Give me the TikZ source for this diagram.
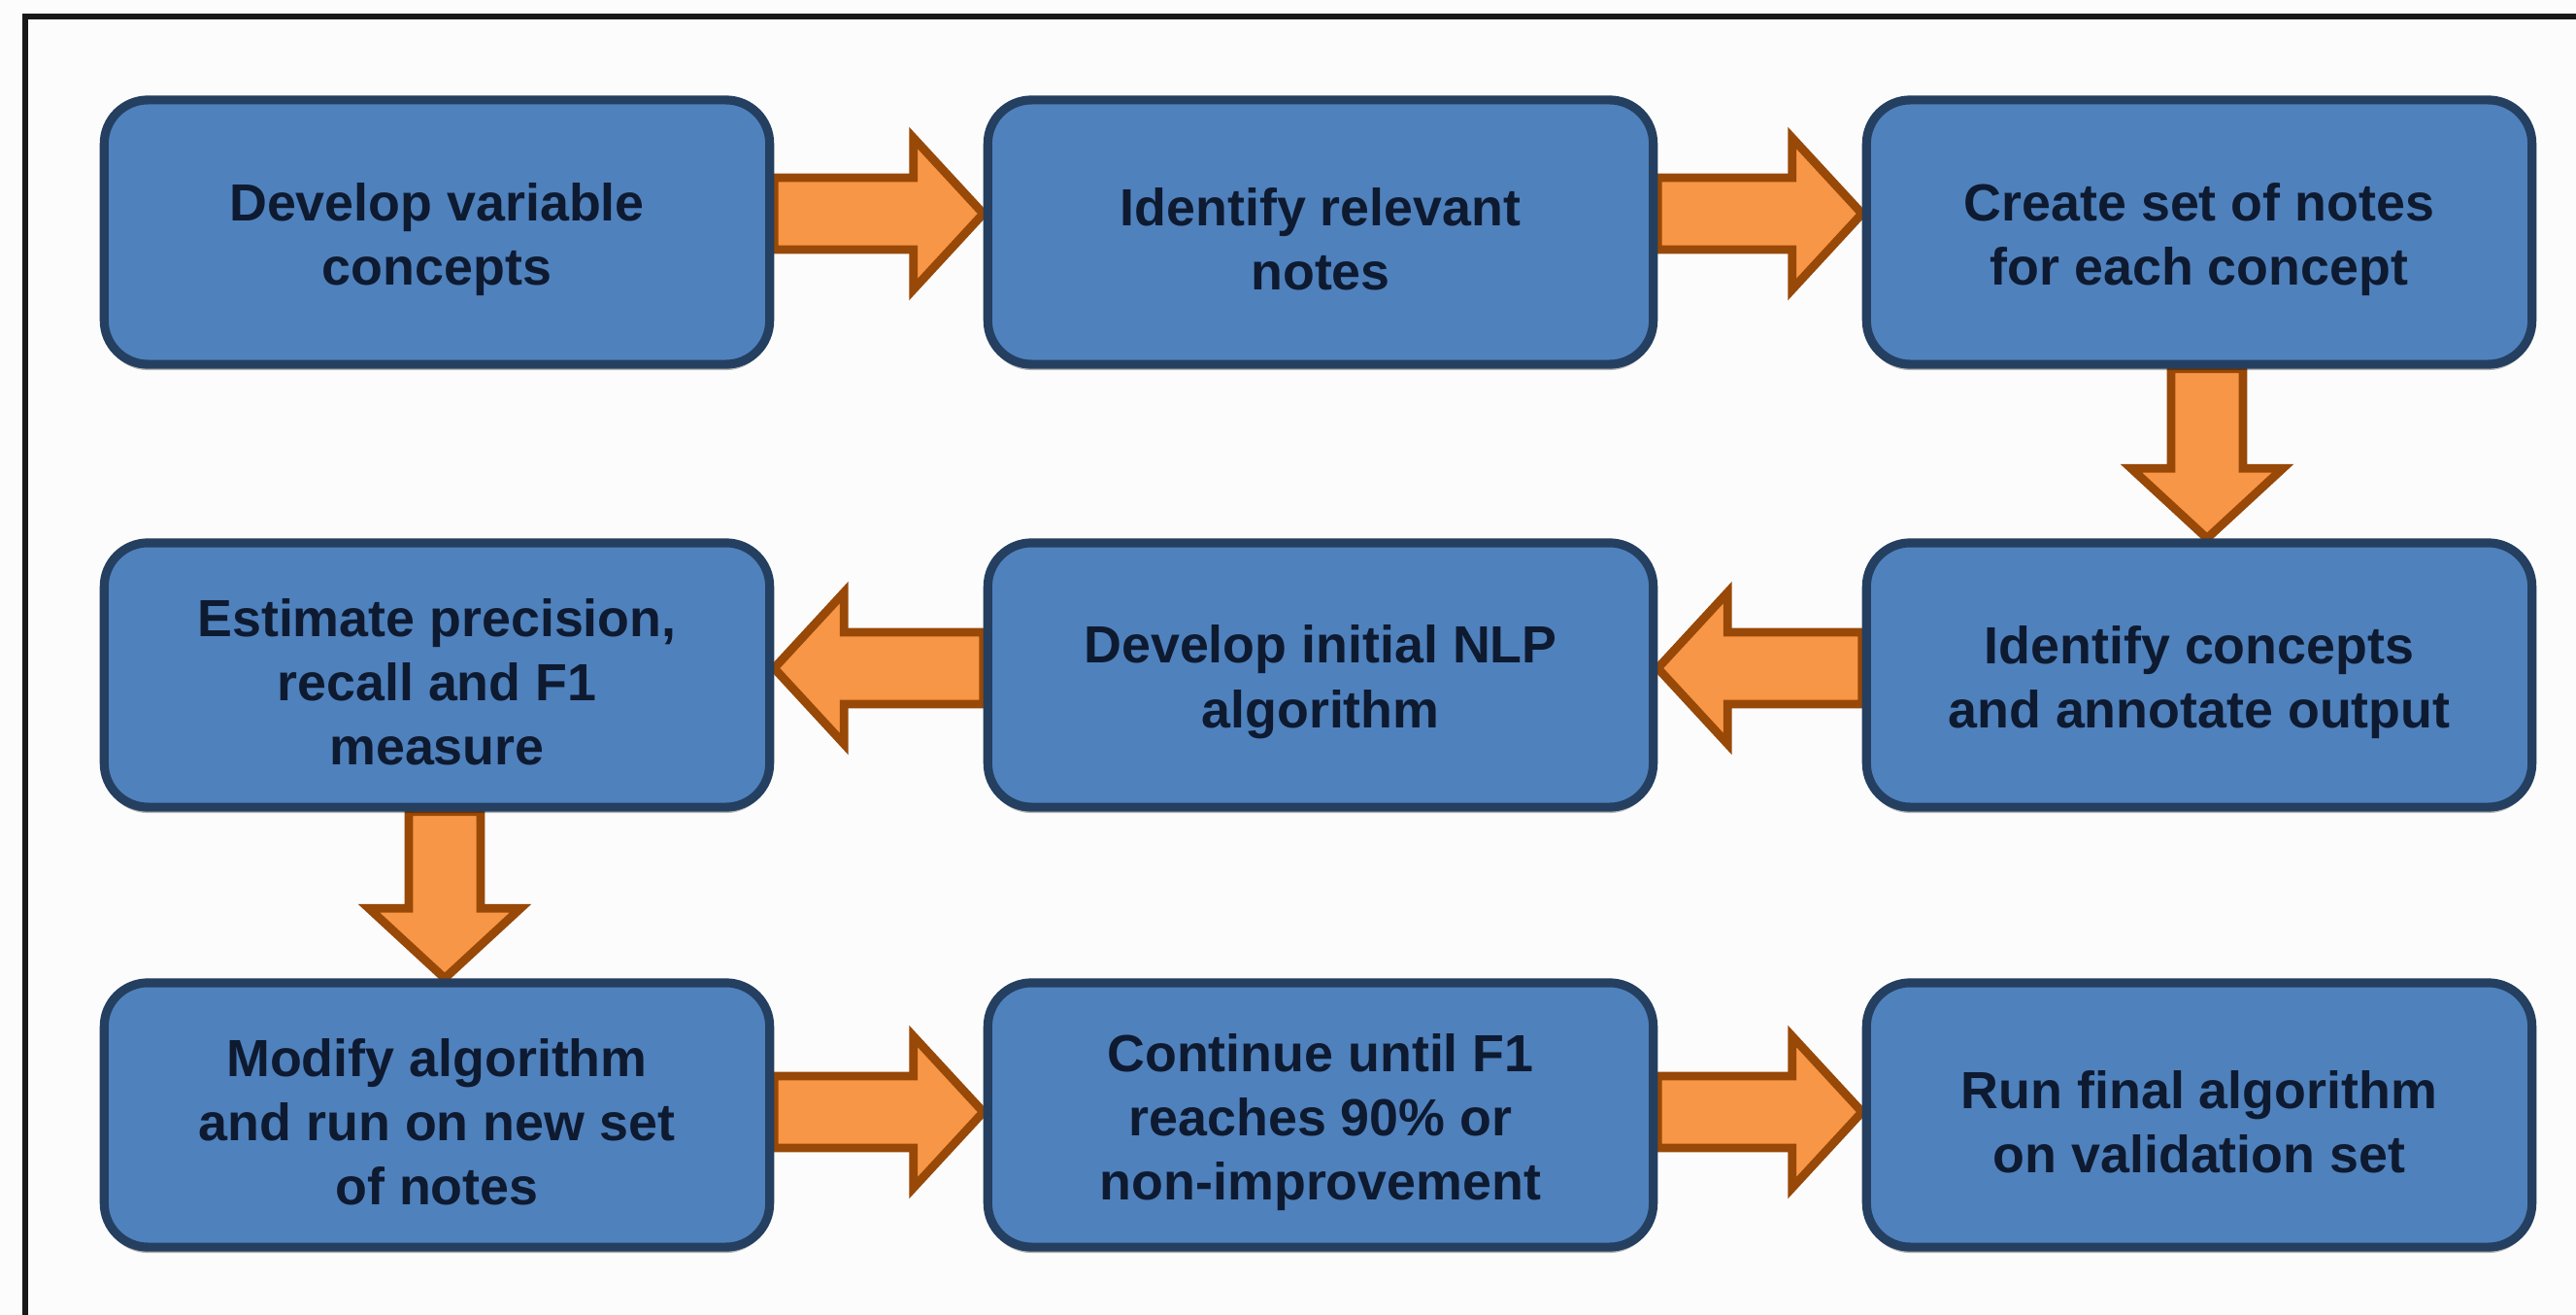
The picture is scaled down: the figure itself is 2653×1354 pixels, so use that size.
\documentclass[tikz,border=0pt]{standalone}
\usepackage{fontspec}
\setmainfont{Liberation Sans}
\usetikzlibrary{calc,backgrounds,shadows}
\definecolor{boxfill}{HTML}{4F81BD}
\definecolor{boxline}{HTML}{243F60}
\definecolor{txtcol}{HTML}{0E1A30}
\definecolor{arrfill}{HTML}{F79646}
\definecolor{arrline}{HTML}{984807}
\newcommand\tdown{\rule{0pt}{15.2pt}}
\newcommand\blockarrow[2]{%
  \coordinate (bah) at ($(#2)!0.72cm!(#1)$);
  \filldraw[barrow] ($(#1)!0.37cm!90:(#2)$) -- ($(bah)!0.37cm!90:(#2)$) -- ($(bah)!0.78cm!90:(#2)$) -- (#2) -- ($(bah)!0.78cm!-90:(#2)$) -- ($(bah)!0.37cm!-90:(#2)$) -- ($(#1)!0.37cm!-90:(#2)$) -- cycle;}
\begin{document}
\begin{tikzpicture}[x=0.01cm,y=-0.01cm,
  box/.style={draw=boxline, line width=2.6pt, fill=boxfill, rounded corners=0.45cm,
    minimum width=6.85cm, minimum height=2.72cm, align=center, text=txtcol, inner sep=0pt,
    font=\fontsize{15.3}{18.8}\selectfont\bfseries,
    drop shadow={shadow xshift=0pt, shadow yshift=-0.06cm, opacity=0.3, fill=black}},
  barrow/.style={fill=arrfill, draw=arrline, line width=2.5pt, line join=miter}]
\useasboundingbox (0,0) rectangle (2653,1354);

\node[box] (b1) at (450,239) {\tdown Develop variable\\concepts};
\node[box] (b2) at (1360,239) {\tdown Identify relevant\\notes};
\node[box] (b3) at (2265,239) {\tdown Create set of notes\\for each concept};
\node[box] (b4) at (450,695) {\tdown Estimate precision,\\recall and F1\\measure};
\node[box] (b5) at (1360,695) {\tdown Develop initial NLP\\algorithm};
\node[box] (b6) at (2265,695) {\tdown Identify concepts\\and annotate output};
\node[box] (b7) at (450,1148) {\tdown Modify algorithm\\and run on new set\\of notes};
\node[box] (b8) at (1360,1148) {\tdown Continue until F1\\reaches 90\% or\\non-improvement};
\node[box] (b9) at (2265,1148) {\tdown Run final algorithm\\on validation set};

\begin{pgfonlayer}{background}
\fill[white!99!black] (0,0) rectangle (2653,1354);
\draw[line width=1.6pt, black!90] (26,1354) -- (26,17) -- (2653,17);
\coordinate (a1s) at ($(b1.east)+(0,-19)$);
\coordinate (a1e) at ($(b2.west)+(0,-19)$);
\coordinate (a2s) at ($(b2.east)+(0,-19)$);
\coordinate (a2e) at ($(b3.west)+(0,-19)$);
\coordinate (d1s) at ($(b3.south)+(8,0)$);
\coordinate (d1e) at ($(b6.north)+(8,0)$);
\coordinate (a3s) at ($(b6.west)+(0,-7)$);
\coordinate (a3e) at ($(b5.east)+(0,-7)$);
\coordinate (a4s) at ($(b5.west)+(0,-7)$);
\coordinate (a4e) at ($(b4.east)+(0,-7)$);
\coordinate (d2s) at ($(b4.south)+(8,0)$);
\coordinate (d2e) at ($(b7.north)+(8,0)$);
\coordinate (a5s) at ($(b7.east)+(0,-3)$);
\coordinate (a5e) at ($(b8.west)+(0,-3)$);
\coordinate (a6s) at ($(b8.east)+(0,-3)$);
\coordinate (a6e) at ($(b9.west)+(0,-3)$);
\blockarrow{a1s}{a1e}
\blockarrow{a2s}{a2e}
\blockarrow{d1s}{d1e}
\blockarrow{a3s}{a3e}
\blockarrow{a4s}{a4e}
\blockarrow{d2s}{d2e}
\blockarrow{a5s}{a5e}
\blockarrow{a6s}{a6e}
\end{pgfonlayer}
\end{tikzpicture}
\end{document}
